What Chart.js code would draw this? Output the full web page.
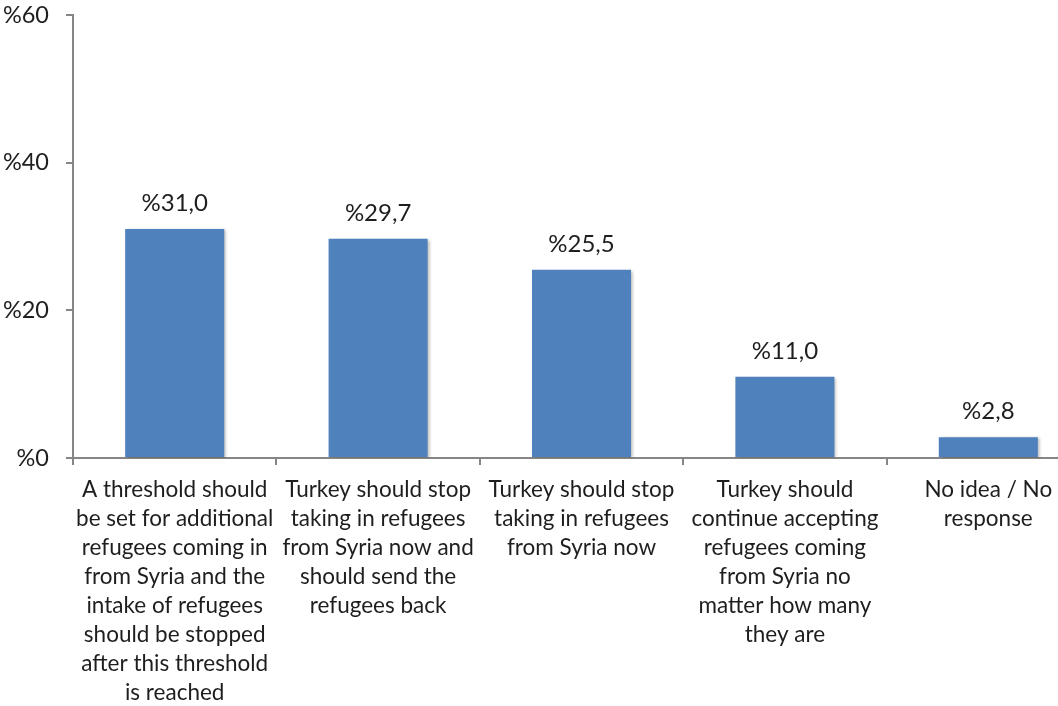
<!DOCTYPE html>
<html>
<head>
<meta charset="utf-8">
<script src="https://cdn.jsdelivr.net/npm/chart.js@4"></script>
<style>
  html, body { margin: 0; padding: 0; background: #fff; overflow: hidden; }
  #wrap { width: 1100px; height: 706px; }
</style>
</head>
<body>
<div id="wrap"><canvas id="responseChart"></canvas></div>
<script>
const categories = [
  ['A threshold should', 'be set for additional', 'refugees coming in', 'from Syria and the', 'intake of refugees', 'should be stopped', 'after this threshold', 'is reached'],
  ['Turkey should stop', 'taking in refugees', 'from Syria now and', 'should send the', 'refugees back'],
  ['Turkey should stop', 'taking in refugees', 'from Syria now'],
  ['Turkey should', 'continue accepting', 'refugees coming', 'from Syria no', 'matter how many', 'they are'],
  ['No idea / No', 'response']
];
const shares = [31.0, 29.7, 25.5, 11.0, 2.8];
const yTicks = [0, 20, 40, 60];

const FONT = 'Lato, "Open Sans", sans-serif';
const TEXT = '#1e1e1e';
const AXIS = '#868686';

const fmt = v => '%' + v.toFixed(1).replace('.', ',');

// soft drop shadow under the bars
const barShadow = {
  id: 'barShadow',
  beforeDatasetsDraw(chart) {
    const ctx = chart.ctx;
    ctx.save();
    ctx.shadowColor = 'rgba(0,0,0,0.28)';
    ctx.shadowBlur = 3;
    ctx.shadowOffsetX = 2;
    ctx.shadowOffsetY = 1;
  },
  afterDatasetsDraw(chart) {
    chart.ctx.restore();
  }
};

// value labels above each bar
const valueLabels = {
  id: 'valueLabels',
  afterDraw(chart) {
    const ctx = chart.ctx;
    ctx.save();
    ctx.font = '24px ' + FONT;
    ctx.fillStyle = TEXT;
    ctx.textAlign = 'center';
    ctx.textBaseline = 'alphabetic';
    chart.getDatasetMeta(0).data.forEach((bar, i) => {
      ctx.fillText(fmt(shares[i]), bar.x, bar.y - 18);
    });
    ctx.restore();
  }
};

new Chart(document.getElementById('responseChart'), {
  type: 'bar',
  data: {
    labels: categories,
    datasets: [{
      data: shares,
      backgroundColor: '#4f81bd',
      borderWidth: 0,
      categoryPercentage: 1,
      barPercentage: 0.487
    }]
  },
  options: {
    responsive: true,
    maintainAspectRatio: false,
    animation: false,
    layout: { padding: { top: 15, right: 10, left: 0, bottom: 0 } },
    plugins: {
      legend: { display: false },
      tooltip: { enabled: false }
    },
    scales: {
      x: {
        grid: { drawOnChartArea: false, drawTicks: true, tickLength: 7, color: AXIS, lineWidth: 2 },
        border: { display: true, color: AXIS, width: 2 },
        ticks: {
          color: TEXT,
          font: { family: FONT, size: 22.5, lineHeight: 1.29 },
          padding: 10,
          maxRotation: 0,
          autoSkip: false
        },
        afterFit(scale) {
          scale.height = 248;
          scale.paddingLeft = 0;
          scale.paddingRight = 0;
        }
      },
      y: {
        min: 0,
        max: 60,
        afterBuildTicks(scale) { scale.ticks = yTicks.map(v => ({ value: v })); },
        grid: { drawOnChartArea: false, drawTicks: true, tickLength: 7, color: AXIS, lineWidth: 2 },
        border: { display: true, color: AXIS, width: 2 },
        ticks: {
          color: TEXT,
          font: { family: FONT, size: 23.5 },
          padding: 17,
          callback: v => '%' + v
        },
        afterFit(scale) {
          scale.width = 73;
          scale.paddingTop = 0;
          scale.paddingBottom = 0;
        }
      }
    }
  },
  plugins: [barShadow, valueLabels]
});
</script>
</body>
</html>
